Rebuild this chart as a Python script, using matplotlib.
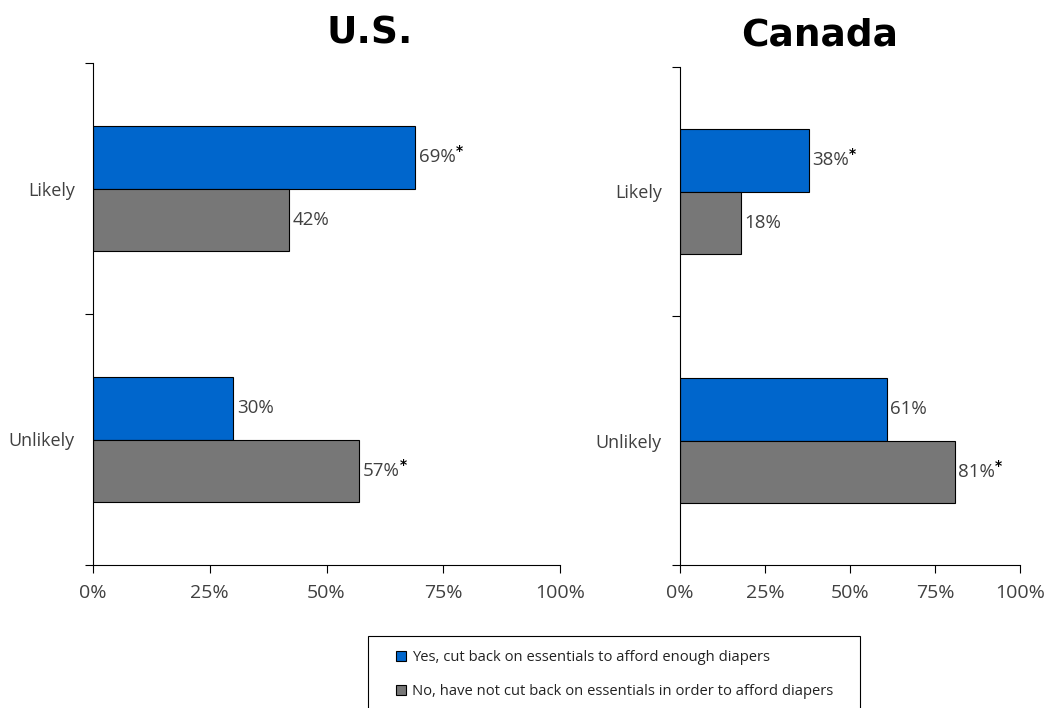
import matplotlib
matplotlib.use("Agg")
import matplotlib.pyplot as plt
from matplotlib.patches import Patch, Rectangle

categories = ["Likely", "Unlikely"]
us_yes = [69, 30]
us_no = [42, 57]
ca_yes = [38, 61]
ca_no = [18, 81]
us_yes_star = [True, False]
us_no_star = [False, True]
ca_yes_star = [True, False]
ca_no_star = [False, True]
xticks = [0, 25, 50, 75, 100]
xticklabels = ["0%", "25%", "50%", "75%", "100%"]
legend_labels = ["Yes, cut back on essentials to afford enough diapers",
                 "No, have not cut back on essentials in order to afford diapers"]

BLUE = "#0066CC"
GRAY = "#777777"
TXT = "#404040"
plt.rcParams['font.family'] = ['Open Sans', 'DejaVu Sans']

fig = plt.figure(figsize=(10.47, 7.08), dpi=100)
W, H = 1047, 708
def ax_rect(x0, x1, ytop, ybot):
    return [x0 / W, 1 - ybot / H, (x1 - x0) / W, (ybot - ytop) / H]

ax1 = fig.add_axes(ax_rect(93, 560, 63, 565))
ax2 = fig.add_axes(ax_rect(680, 1020, 67, 565))

star_texts = []

def draw(ax, yes, no, ystar, nstar):
    pos = [1, 0]
    h = 0.25
    ax.barh([p + h / 2 for p in pos], yes, height=h, color=BLUE, edgecolor="black", linewidth=0.8)
    ax.barh([p - h / 2 for p in pos], no, height=h, color=GRAY, edgecolor="black", linewidth=0.8)
    for vals, stars, off in ((yes, ystar, h / 2), (no, nstar, -h / 2)):
        for p, v, s in zip(pos, vals, stars):
            t = ax.text(v + 0.8, p + off, f"{v}%", va="center", ha="left", fontsize=13.5, color=TXT)
            if s:
                star_texts.append(t)
    ax.set_xlim(0, 100)
    ax.set_ylim(-0.5, 1.5)
    ax.set_xticks(xticks)
    ax.set_xticklabels(xticklabels, fontsize=14, color=TXT)
    ax.set_yticks([-0.5, 0.5, 1.5])
    ax.set_yticklabels([])
    ax.set_yticks([1, 0], minor=True)
    ax.set_yticklabels(categories, minor=True, fontsize=13, color=TXT)
    ax.tick_params(axis="y", which="minor", length=0, pad=13)
    ax.tick_params(axis="y", which="major", length=6, width=0.8, direction="out")
    ax.tick_params(axis="x", length=6, width=0.8, direction="out", pad=8)
    for sp in ["top", "right"]:
        ax.spines[sp].set_visible(False)
    ax.spines["left"].set_linewidth(0.8)
    ax.spines["bottom"].set_linewidth(0.8)

draw(ax1, us_yes, us_no, us_yes_star, us_no_star)
draw(ax2, ca_yes, ca_no, ca_yes_star, ca_no_star)

fig.text(370 / W, 1 - 34 / H, "U.S.", ha="center", va="center", fontsize=27, fontweight="bold",
         family="DejaVu Sans")
fig.text(820 / W, 1 - 36 / H, "Canada", ha="center", va="center", fontsize=27, fontweight="bold",
         family="DejaVu Sans")

# legend frame (extends below the figure edge, as in the reference)
fig.patches.append(Rectangle((368 / W, -0.05), (860 - 368) / W, (0.05 + 1 - 636 / H),
                             transform=fig.transFigure, fill=False, edgecolor="black",
                             linewidth=0.8))
handles = [Patch(facecolor=BLUE, edgecolor="black", linewidth=0.8),
           Patch(facecolor=GRAY, edgecolor="black", linewidth=0.8)]
leg = fig.legend(handles, legend_labels, loc="upper left",
                 bbox_to_anchor=(396 / W, 1 - 650 / H), frameon=False,
                 fontsize=10.6, handlelength=0.7, handleheight=0.7, handletextpad=0.4,
                 labelspacing=1.3, borderpad=0, borderaxespad=0)
for t in leg.get_texts():
    t.set_color("#222222")

fig.canvas.draw()
r = fig.canvas.get_renderer()
for t in star_texts:
    bb = t.get_window_extent(r)
    fig.text(bb.x1 / W, (bb.y1 - 3) / H, "*",
             ha="left", va="center", fontsize=10, fontweight="bold", color="black",
             family="DejaVu Sans")

fig.savefig("out.png", dpi=100)
